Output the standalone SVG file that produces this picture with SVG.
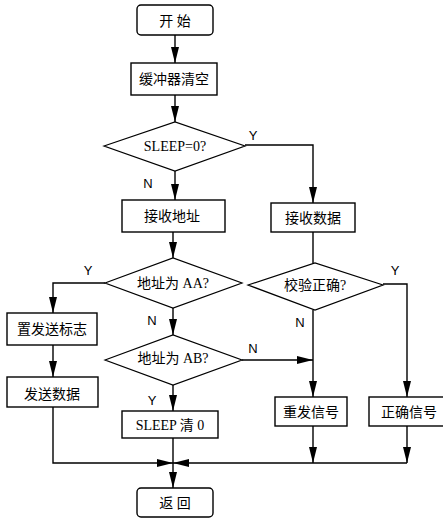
<svg xmlns="http://www.w3.org/2000/svg" width="443" height="519" viewBox="0 0 443 519">
<defs>
<marker id="ah" viewBox="0 0 16 8" refX="16" refY="4" markerWidth="16" markerHeight="8" markerUnits="userSpaceOnUse" orient="auto">
<path d="M0,0 L16,4 L0,8 Z" fill="#000"/>
</marker>
<style>
.b{fill:#fff;stroke:#000;stroke-width:1.4}
.d{fill:#fff;stroke:#000;stroke-width:1.2}
.t{font-family:"Liberation Serif","Noto Sans CJK SC",serif;font-size:14px;text-anchor:middle;dominant-baseline:central;fill:#000}
.l{font-family:"Liberation Sans",sans-serif;font-size:13px;text-anchor:middle;dominant-baseline:central;fill:#000}
.c{fill:none;stroke:#000;stroke-width:1.4}
.a{fill:none;stroke:#000;stroke-width:1.4;marker-end:url(#ah)}
</style>
</defs>
<rect width="443" height="519" fill="#fff"/>
<g id="connectors">
<line class="a" x1="175" y1="35" x2="175" y2="63"/>
<line class="a" x1="175" y1="95" x2="175" y2="122"/>
<line class="a" x1="175" y1="171" x2="175" y2="200"/>
<polyline class="a" points="245,145 313,145 313,203"/>
<line class="a" x1="173" y1="232" x2="173" y2="258"/>
<polyline class="a" points="105,283 53,283 53,313"/>
<line class="a" x1="53" y1="345" x2="53" y2="377"/>
<line class="a" x1="173" y1="308" x2="173" y2="335"/>
<line class="c" x1="313" y1="232" x2="313" y2="263"/>
<line class="a" x1="313" y1="310" x2="313" y2="397"/>
<line class="a" x1="242" y1="360" x2="313" y2="360"/>
<polyline class="a" points="383,284 407,284 407,397"/>
<line class="a" x1="173" y1="385" x2="173" y2="411"/>
<polyline class="a" points="53,407 53,463 173,463"/>
<line class="a" x1="313" y1="426" x2="313" y2="463"/>
<line class="a" x1="407" y1="426" x2="407" y2="463"/>
<line class="a" x1="407" y1="463" x2="173" y2="463"/>
<line class="c" x1="173" y1="438" x2="173" y2="463"/>
<line class="a" x1="173" y1="463" x2="173" y2="488"/>
<text class="l" x="253" y="135">Y</text>
<text class="l" x="148" y="183">N</text>
<text class="l" x="88" y="270">Y</text>
<text class="l" x="152" y="320">N</text>
<text class="l" x="395" y="270">Y</text>
<text class="l" x="300" y="322">N</text>
<text class="l" x="253" y="348">N</text>
<text class="l" x="152" y="400">Y</text>
</g>
<g id="start"><rect class="b" x="137" y="5" width="76" height="30" rx="4"/><text class="t" x="175" y="21">开 始</text></g>
<g id="clear"><rect class="b" x="131" y="63" width="86" height="32"/><text class="t" x="174" y="79">缓冲器清空</text></g>
<g id="sleep"><polygon class="d" points="104,146 175,122 245,146 175,171"/><text class="t" x="175" y="146">SLEEP=0?</text></g>
<g id="recvaddr"><rect class="b" x="122" y="200" width="103" height="32"/><text class="t" x="172" y="216">接收地址</text></g>
<g id="recvdata"><rect class="b" x="271" y="203" width="84" height="29"/><text class="t" x="313" y="218">接收数据</text></g>
<g id="addraa"><polygon class="d" points="105,283 173,258 242,283 173,308"/><text class="t" x="173" y="283">地址为 AA?</text></g>
<g id="check"><polygon class="d" points="248,285 315,263 383,285 315,310"/><text class="t" x="315" y="285">校验正确?</text></g>
<g id="setflag"><rect class="b" x="7" y="313" width="90" height="32"/><text class="t" x="52" y="329">置发送标志</text></g>
<g id="addrab"><polygon class="d" points="105,360 173,335 242,360 173,385"/><text class="t" x="173" y="358">地址为 AB?</text></g>
<g id="senddata"><rect class="b" x="7" y="377" width="91" height="30"/><text class="t" x="52" y="394">发送数据</text></g>
<g id="sleepclr"><rect class="b" x="122" y="411" width="96" height="27"/><text class="t" x="170" y="425">SLEEP 清 0</text></g>
<g id="resend"><rect class="b" x="275" y="397" width="72" height="29"/><text class="t" x="311" y="412">重发信号</text></g>
<g id="ok"><rect class="b" x="369" y="397" width="80" height="29"/><text class="t" x="409" y="412">正确信号</text></g>
<g id="return"><rect class="b" x="137" y="488" width="76" height="29" rx="4"/><text class="t" x="175" y="503">返 回</text></g>
</svg>
